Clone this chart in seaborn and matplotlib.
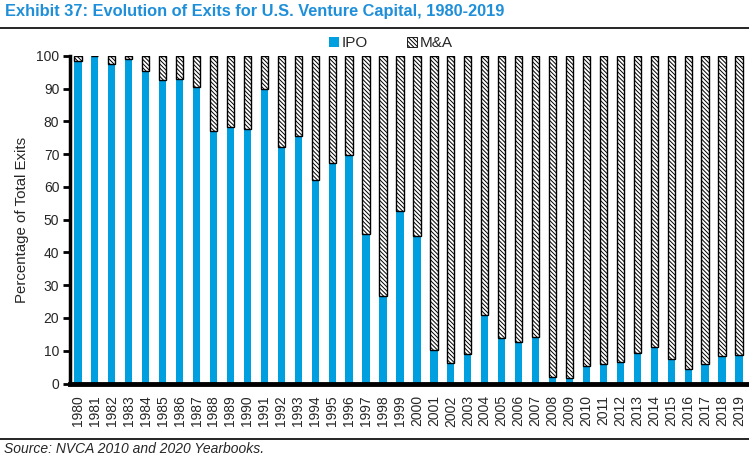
import numpy as np
import pandas as pd
import matplotlib
matplotlib.use("Agg")
import matplotlib.pyplot as plt
from matplotlib.patches import Patch
import seaborn as sns

years = [str(y) for y in range(1980, 2020)]
ipo = [98.3, 100.0, 97.5, 99.0, 95.3, 92.6, 93.1, 90.4, 77.0, 78.2,
       77.6, 89.8, 72.1, 75.5, 62.0, 67.4, 69.7, 45.6, 26.6, 52.6,
       45.1, 10.3, 6.4, 8.9, 20.8, 13.8, 12.8, 14.1, 2.1, 1.8,
       5.2, 5.9, 6.5, 9.2, 11.1, 7.4, 4.3, 5.9, 8.3, 8.6]
mna = [1.7, 0.0, 2.5, 1.0, 4.7, 7.4, 6.9, 9.6, 23.0, 21.8,
       22.4, 10.2, 27.9, 24.5, 38.0, 32.6, 30.3, 54.4, 73.4, 47.4,
       54.9, 89.7, 93.6, 91.1, 79.2, 86.2, 87.2, 85.9, 97.9, 98.2,
       94.8, 94.1, 93.5, 90.8, 88.9, 92.6, 95.7, 94.1, 91.7, 91.4]

title = "Exhibit 37: Evolution of Exits for U.S. Venture Capital, 1980-2019"
source = "Source: NVCA 2010 and 2020 Yearbooks."
ylabel = "Percentage of Total Exits"

sns.set_style("white")
plt.rcParams['font.family'] = ['Liberation Sans', 'DejaVu Sans']
plt.rcParams['hatch.linewidth'] = 0.7

blue = "#009FE0"
hatch = "\\" * 8
df = pd.DataFrame({"year": years, "IPO": ipo, "M&A": mna})

fig = plt.figure(figsize=(7.49, 4.66), dpi=100)
ax = fig.add_axes([0.094, 0.177, 0.9047, 0.703])

sns.barplot(data=df, x="year", y="IPO", color=blue, width=0.43,
            saturation=1, linewidth=0, ax=ax)
sns.barplot(data=df, x="year", y="M&A", bottom=np.array(ipo), color="white",
            width=0.43, saturation=1, edgecolor="black", linewidth=1.0,
            hatch=hatch, ax=ax)

ax.set_xlim(-0.44, 39.53)
ax.set_ylim(0, 100)
ax.set_yticks(range(0, 101, 10))
ax.set_xlabel("")
ax.set_ylabel(ylabel, fontsize=10.8, labelpad=5)
ax.tick_params(axis="y", which="major", left=True, length=5, width=2,
               labelsize=10, pad=3, direction="out", color="black")
ax.tick_params(axis="x", bottom=False, labelsize=10, labelrotation=90, pad=5)
for lbl in ax.get_xticklabels():
    lbl.set_va("top")
for s in ["top", "right"]:
    ax.spines[s].set_visible(False)
ax.spines["left"].set_linewidth(2.5)
ax.spines["bottom"].set_linewidth(3.5)
ax.spines["left"].set_color("black")
ax.spines["bottom"].set_color("black")

handles = [Patch(facecolor=blue, edgecolor="none", label="IPO"),
           Patch(facecolor="white", edgecolor="black", hatch=hatch,
                 linewidth=0.6, label="M&A")]
fig.legend(handles=handles, loc="center", bbox_to_anchor=(0.522, 0.907),
           ncol=2, frameon=False, fontsize=11, handlelength=0.65,
           handleheight=0.65, handletextpad=0.15, columnspacing=2.6)

fig.text(0.007, 0.975, title, color="#1E8FD8", fontsize=11.8,
         fontweight="bold", ha="left", va="center")
fig.add_artist(plt.Line2D([0, 1], [0.94, 0.94], color="black", lw=1.2,
                          transform=fig.transFigure))
fig.add_artist(plt.Line2D([0, 1], [1 - 439 / 466, 1 - 439 / 466], color="black",
                          lw=1.2, transform=fig.transFigure))
fig.text(0.005, 1 - 449 / 466, source, fontsize=10, style="italic",
         ha="left", va="center")

fig.savefig("out.png", dpi=100)
